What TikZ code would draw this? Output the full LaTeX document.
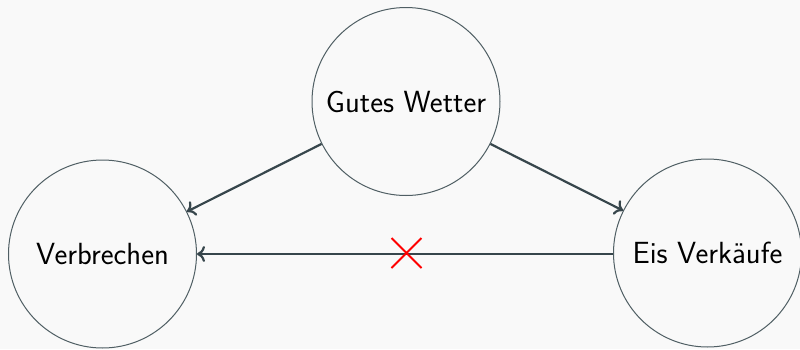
\documentclass[tikz,border=0pt]{standalone}
\usepackage{fontspec}
\setsansfont{Latin Modern Sans}
\usetikzlibrary{arrows.meta}
\definecolor{bgc}{RGB}{249,249,249}
\definecolor{circc}{RGB}{80,95,100}
\definecolor{arrc}{RGB}{55,70,76}
\begin{document}
\begin{tikzpicture}[x=0.5pt,y=-0.5pt,
  var/.style={circle,draw=circc,line width=0.5pt,minimum size=94pt,inner sep=0pt,font=\sffamily\fontsize{15.3}{18}\selectfont},
  link/.style={draw=arrc,line width=1.1pt,-{To[length=4pt,width=8pt]}}]
\fill[bgc] (0,0) rectangle (800,349);
\useasboundingbox (0,0) rectangle (800,349);
\node[var] (w) at (406,101.5) {Gutes Wetter};
\node[var] (v) at (102.5,254) {Verbrechen};
\node[var] (e) at (707.5,253) {Eis Verkäufe};
\draw[link] (w) -- (v);
\draw[link] (w) -- (e);
\draw[link] (e.west |- 0,254) coordinate (es) -- (v.east |- 0,254);
\coordinate (x) at (406.5,253);
\draw[red,line width=1pt] ([shift={(-15,-15)}]x) -- ([shift={(15,15)}]x)
  ([shift={(-15,15)}]x) -- ([shift={(15,-15)}]x);
\end{tikzpicture}
\end{document}
